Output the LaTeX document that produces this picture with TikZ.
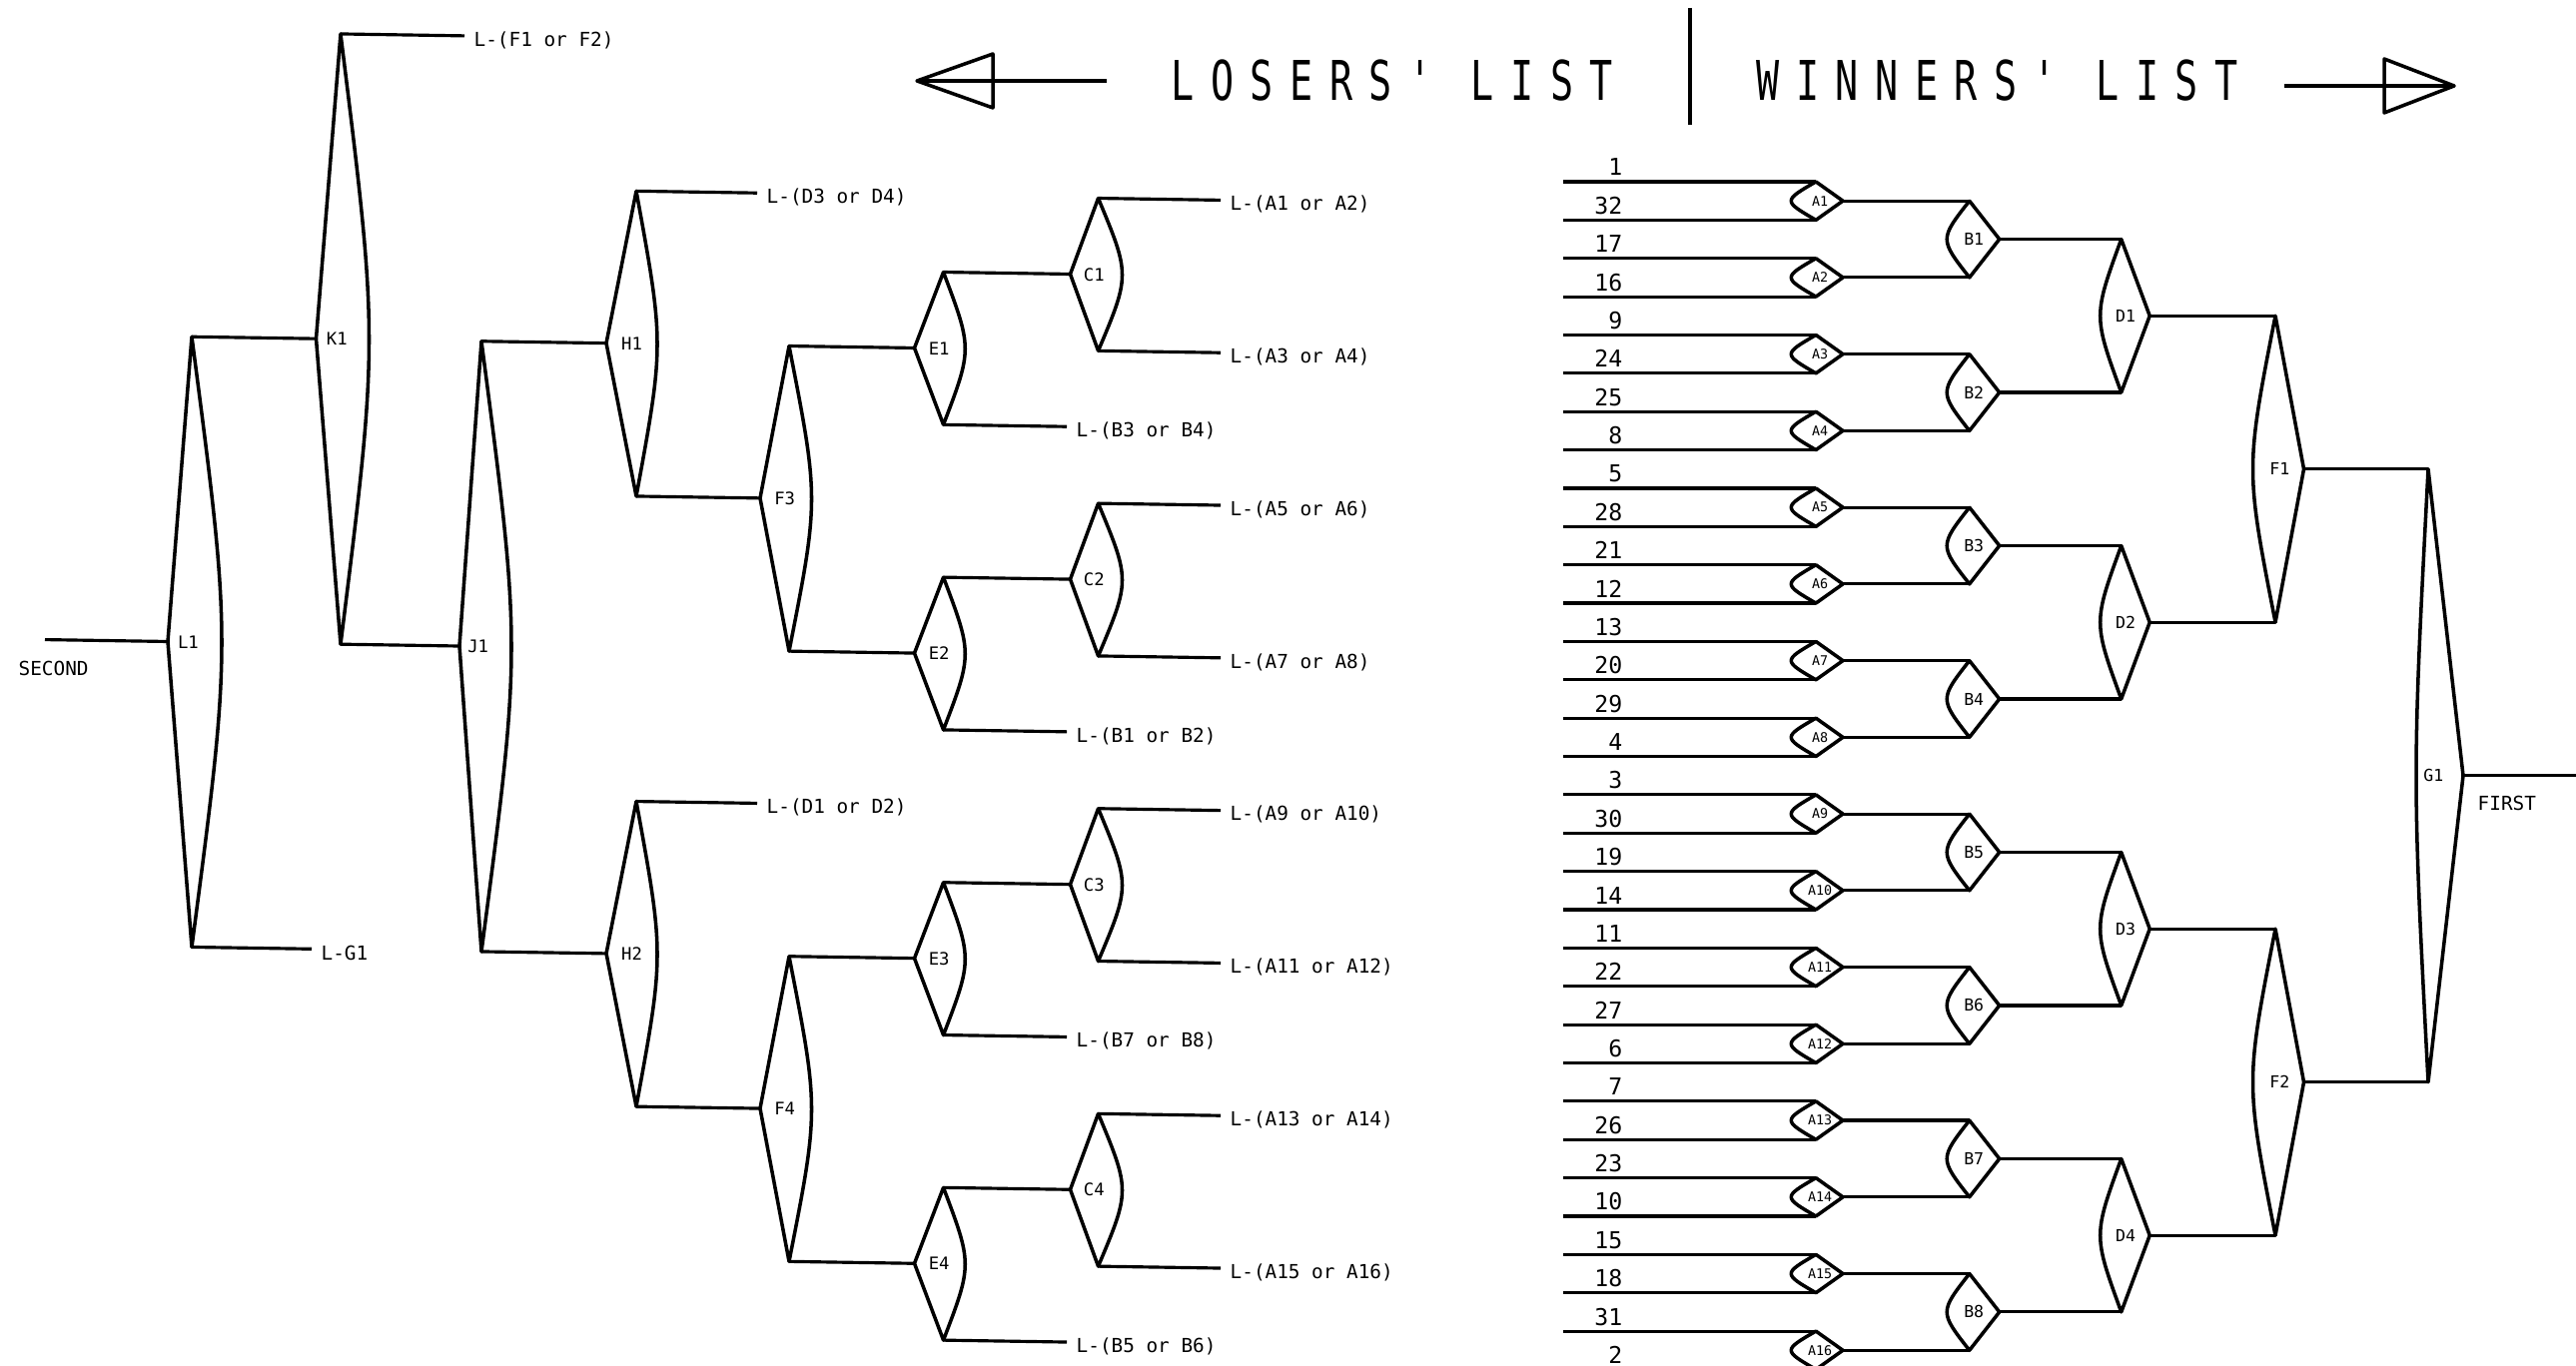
\documentclass[tikz,border=0pt]{standalone}
\usepackage{fontspec}
\newfontfamily\plotfont{DejaVu Sans Mono}
\newfontfamily\titlefont[FakeStretch=0.7, LetterSpace=30]{DejaVu Sans Mono}
\tikzset{
  wire/.style={line width=0.9pt},
  game/.style={line width=1pt, line join=round, line cap=round},
  lbl/.style={font=\plotfont\fontsize{5.5}{6}\selectfont, inner sep=0pt, anchor=west},
  seed/.style={font=\plotfont\fontsize{6.6}{7}\selectfont, inner sep=0pt, anchor=base east},
  gamelbl/.style={inner sep=0pt},
  titletext/.style={font=\titlefont\fontsize{15.6}{16}\selectfont, inner sep=0pt, anchor=base west},
}
\pgfmathdeclarefunction{wrow}{1}{\pgfmathparse{182+38.37*#1}}
\pgfmathdeclarefunction{lrow}{1}{\pgfmathparse{197+76.4*#1}}
% name, vertex x, top y, bottom y, tip length, bulge, label size
\newcommand\game[7]{%
  \coordinate (#1-t) at ({#2},{#3});
  \coordinate (#1-b) at ({#2},{#4});
  \coordinate (#1-o) at ({#2+(#5)},{((#3)+(#4))/2});
  \draw[game] (#1-t) -- (#1-o) -- (#1-b) .. controls ({#2-2*(#6)},{((#3)+(#4))/2}) .. (#1-t);
  \node[gamelbl, font=\plotfont\fontsize{#7}{#7}\selectfont] (#1) at ({#2+0.15*(#5)},{((#3)+(#4))/2}) {#1};
}
\newcommand\feed[4]{%
  \coordinate (#1-x) at ({#2},{#3});
  \draw[wire] (#1) -- (#1-x);
  \node[lbl] (#1-l) at ({#2+9},{(#3)+4}) {#4};
}

\begin{document}
\begin{tikzpicture}[x=0.01cm, y=-0.01cm]
  \useasboundingbox (0,0) rectangle (2579,1368);
  \clip (0,0) rectangle (2579,1368);

  \node[titletext] (losers) at (1172,101) {LOSERS' LIST};
  \node[titletext] (winners) at (1758,101) {WINNERS' LIST};
  \draw[line width=1.3pt] (1692,8) -- (1692,125);
  \coordinate (lefttip) at (918,81);
  \coordinate (leftend) at (1108,81);
  \draw[line width=1.4pt] (leftend) -- (lefttip);
  \draw[game] (lefttip) -- (994,54) -- (994,108) -- cycle;
  \coordinate (righttip) at (2457,86);
  \coordinate (rightend) at (2287,86);
  \draw[line width=1.4pt] (rightend) -- (righttip);
  \draw[game] (righttip) -- (2387,59) -- (2387,113) -- cycle;

  \foreach \i in {1,...,16} {\game{A\i}{1818}{wrow(2*\i-2)}{wrow(2*\i-1)}{27}{16.5}{3.8}}
  \foreach \j in {1,...,8} {\game{B\j}{1971.7}{wrow(4*\j-3.5)}{wrow(4*\j-1.5)}{30}{15}{4.7}}
  \foreach \j in {1,...,4} {\game{D\j}{2123.7}{wrow(8*\j-6.5)}{wrow(8*\j-2.5)}{28.5}{14}{4.7}}
  \foreach \j in {1,2} {\game{F\j}{2278}{wrow(16*\j-12.5)}{wrow(16*\j-4.5)}{28.5}{15}{4.7}}
  \game{G1}{2431}{wrow(7.5)}{wrow(23.5)}{35}{8}{4.7}

  \foreach \sa/\sb [count=\i] in {1/32,17/16,9/24,25/8,5/28,21/12,13/20,29/4,3/30,19/14,11/22,27/6,7/26,23/10,15/18,31/2} {
    \coordinate (in\i-t) at (1565,{wrow(2*\i-2)});
    \coordinate (in\i-b) at (1565,{wrow(2*\i-1)});
    \node[seed] (seed\sa) at (1625,{wrow(2*\i-2)-6}) {\sa};
    \node[seed] (seed\sb) at (1625,{wrow(2*\i-1)-6}) {\sb};
    \draw[wire] (in\i-t) -- (A\i-t);
    \draw[wire] (in\i-b) -- (A\i-b);
  }
  \foreach \j in {1,...,8} {
    \pgfmathtruncatemacro\ja{2*\j-1}
    \pgfmathtruncatemacro\jb{2*\j}
    \draw[wire] (A\ja-o) -- (B\j-t);
    \draw[wire] (A\jb-o) -- (B\j-b);
  }
  \foreach \j in {1,...,4} {
    \pgfmathtruncatemacro\ja{2*\j-1}
    \pgfmathtruncatemacro\jb{2*\j}
    \draw[wire] (B\ja-o) -- (D\j-t);
    \draw[wire] (B\jb-o) -- (D\j-b);
  }
  \foreach \j in {1,2} {
    \pgfmathtruncatemacro\ja{2*\j-1}
    \pgfmathtruncatemacro\jb{2*\j}
    \draw[wire] (D\ja-o) -- (F\j-t);
    \draw[wire] (D\jb-o) -- (F\j-b);
  }
  \draw[wire] (F1-o) -- (G1-t);
  \draw[wire] (F2-o) -- (G1-b);
  \coordinate (first) at (2579,{wrow(15.5)});
  \draw[wire] (G1-o) -- (first);
  \node[lbl] (firstlbl) at (2480,{wrow(15.5)+28}) {FIRST};

  \begin{scope}[yslant=-0.0155, yshift=1.55mm]
    \foreach \c in {1,...,4} {
      \game{C\c}{1099.5}{lrow(4*\c-4)}{lrow(4*\c-2)}{-28}{-16}{4.9}
      \pgfmathtruncatemacro\nA{4*\c-3}
      \pgfmathtruncatemacro\nB{4*\c-2}
      \pgfmathtruncatemacro\nC{4*\c-1}
      \pgfmathtruncatemacro\nD{4*\c}
      \feed{C\c-t}{1222}{lrow(4*\c-4)}{L-(A\nA{} or A\nB)}
      \feed{C\c-b}{1222}{lrow(4*\c-2)}{L-(A\nC{} or A\nD)}
    }
    \foreach \e/\bp/\bq in {1/3/4,2/1/2,3/7/8,4/5/6} {
      \game{E\e}{944.5}{lrow(4*\e-3)}{lrow(4*\e-1)}{-29}{-14.5}{4.9}
      \feed{E\e-b}{1068}{lrow(4*\e-1)}{L-(B\bp{} or B\bq)}
    }
    \game{F3}{790}{lrow(2)}{lrow(6)}{-29}{-15}{4.9}
    \game{F4}{790}{lrow(10)}{lrow(14)}{-29}{-15}{4.9}
    \game{H1}{637}{lrow(0)}{lrow(4)}{-30}{-14}{4.9}
    \game{H2}{637}{lrow(8)}{lrow(12)}{-30}{-14}{4.9}
    \game{J1}{482}{lrow(2)}{lrow(10)}{-22}{-20}{4.9}
    \game{K1}{341}{lrow(-2)}{lrow(6)}{-24.5}{-19}{4.9}
    \game{L1}{192}{lrow(2)}{lrow(10)}{-24}{-20}{4.9}
    \feed{H1-t}{758}{lrow(0)}{L-(D3 or D4)}
    \feed{H2-t}{758}{lrow(8)}{L-(D1 or D2)}
    \feed{K1-t}{465}{lrow(-2)}{L-(F1 or F2)}
    \feed{L1-b}{312}{lrow(10)}{L-G1}
    \foreach \c in {1,...,4} {\draw[wire] (C\c-o) -- (E\c-t);}
    \draw[wire] (E1-o) -- (F3-t);
    \draw[wire] (E2-o) -- (F3-b);
    \draw[wire] (E3-o) -- (F4-t);
    \draw[wire] (E4-o) -- (F4-b);
    \draw[wire] (F3-o) -- (H1-b);
    \draw[wire] (F4-o) -- (H2-b);
    \draw[wire] (H1-o) -- (J1-t);
    \draw[wire] (H2-o) -- (J1-b);
    \draw[wire] (J1-o) -- (K1-b);
    \draw[wire] (K1-o) -- (L1-t);
    \coordinate (second) at (45,{lrow(6)});
    \draw[wire] (L1-o) -- (second);
    \node[lbl] (secondlbl) at (18,{lrow(6)+29}) {SECOND};
  \end{scope}
\end{tikzpicture}
\end{document}
